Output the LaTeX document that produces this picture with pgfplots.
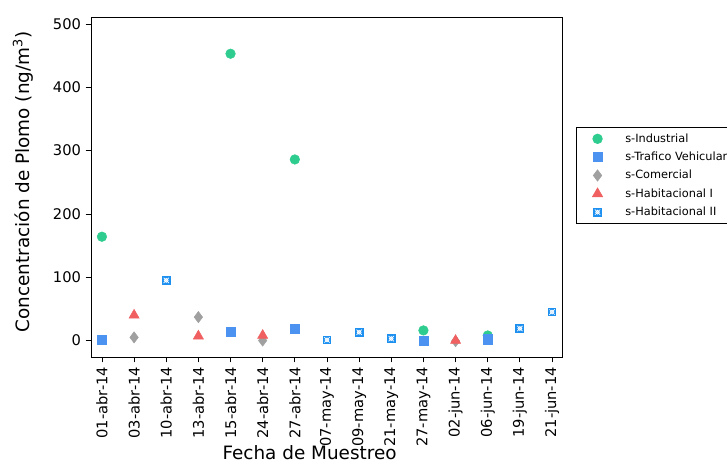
\documentclass[border=0pt]{standalone}
\usepackage{fontspec}
\setmainfont{DejaVu Sans}
\usepackage{pgfplots}
\pgfplotsset{compat=1.18}
\definecolor{cind}{RGB}{46,204,143}
\definecolor{ctraf}{RGB}{76,146,240}
\definecolor{ccom}{RGB}{160,160,160}
\definecolor{chab}{RGB}{240,96,96}
\definecolor{chab2}{RGB}{30,144,240}
\pgfdeclareplotmark{sqx}{%
  \pgfpathrectangle{\pgfqpoint{-\pgfplotmarksize}{-\pgfplotmarksize}}{\pgfqpoint{2\pgfplotmarksize}{2\pgfplotmarksize}}%
  \pgfusepathqfill
  \pgfsetstrokecolor{white}%
  \pgfsetlinewidth{0.5pt}%
  \pgfpathmoveto{\pgfqpoint{-0.6\pgfplotmarksize}{-0.6\pgfplotmarksize}}%
  \pgfpathlineto{\pgfqpoint{0.6\pgfplotmarksize}{0.6\pgfplotmarksize}}%
  \pgfpathmoveto{\pgfqpoint{-0.6\pgfplotmarksize}{0.6\pgfplotmarksize}}%
  \pgfpathlineto{\pgfqpoint{0.6\pgfplotmarksize}{-0.6\pgfplotmarksize}}%
  \pgfpathcircle{\pgfqpoint{0pt}{0pt}}{0.45\pgfplotmarksize}%
  \pgfusepathqstroke
}
\begin{document}
\begin{tikzpicture}
\begin{axis}[
  at={(0,0)}, anchor=south west,
  scale only axis,
  width=353.25pt, height=255pt,
  xmin=-0.34, xmax=14.31,
  ymin=-26, ymax=511,
  xtick={0,...,14},
  xticklabels={01-abr-14,03-abr-14,10-abr-14,13-abr-14,15-abr-14,24-abr-14,27-abr-14,07-may-14,09-may-14,21-may-14,27-may-14,02-jun-14,06-jun-14,19-jun-14,21-jun-14},
  ytick={0,100,...,500},
  xtick pos=left, ytick pos=left,
  tick align=outside,
  major tick length=4pt,
  tick style={black, line width=0.6pt},
  axis line style={black, line width=0.7pt},
  /pgf/number format/assume math mode=true,
  tick label style={font=\fontsize{11}{13}\selectfont},
  xticklabel style={rotate=90, anchor=east},
  xlabel={Fecha de Muestreo},
  ylabel={Concentración de Plomo (ng/m\textsuperscript{3})},
  label style={font=\fontsize{13.8}{16}\selectfont},
  xlabel style={at={(axis description cs:0.464,0)}, anchor=center, yshift=-72pt},
  ylabel style={at={(axis description cs:0,0.515)}, anchor=center, yshift=51pt},
  legend style={at={(1.03,0.676)}, anchor=north west, draw=black, line width=0.5pt,
    font=\fontsize{8.5}{10}\selectfont, row sep=1.8pt, inner xsep=12pt, inner ysep=2.5pt,
    cells={anchor=west},
    /tikz/every odd column/.append style={column sep=15pt}},
  legend cell align=left,
  clip=false,
]
\addplot[only marks, mark=*, mark size=3.6pt, color=cind] coordinates {(0,164) (4,453) (6,286) (10,16) (12,8)};
\addlegendentry{s-Industrial}
\addplot[only marks, mark=square*, mark size=3.4pt, color=ctraf] coordinates {(0,1) (4,14) (6,19) (10,0) (12,2)};
\addlegendentry{s-Trafico Vehicular}
\addplot[only marks, mark=diamond*, mark size=4.2pt, color=ccom] coordinates {(1,5) (3,37) (5,0) (11,-1)};
\addlegendentry{s-Comercial}
\addplot[only marks, mark=triangle*, mark size=4.4pt, color=chab] coordinates {(1,40) (3,7) (5,8) (11,0)};
\addlegendentry{s-Habitacional I}
\addplot[only marks, mark=sqx, mark size=3.3pt, color=chab2] coordinates {(2,95) (7,1) (8,13) (9,3) (13,19) (14,45)};
\addlegendentry{s-Habitacional II}
\end{axis}
\pgfresetboundingbox
\path[use as bounding box] (-68.25pt,-83.25pt) rectangle (477pt,267.75pt);
\end{tikzpicture}
\end{document}
